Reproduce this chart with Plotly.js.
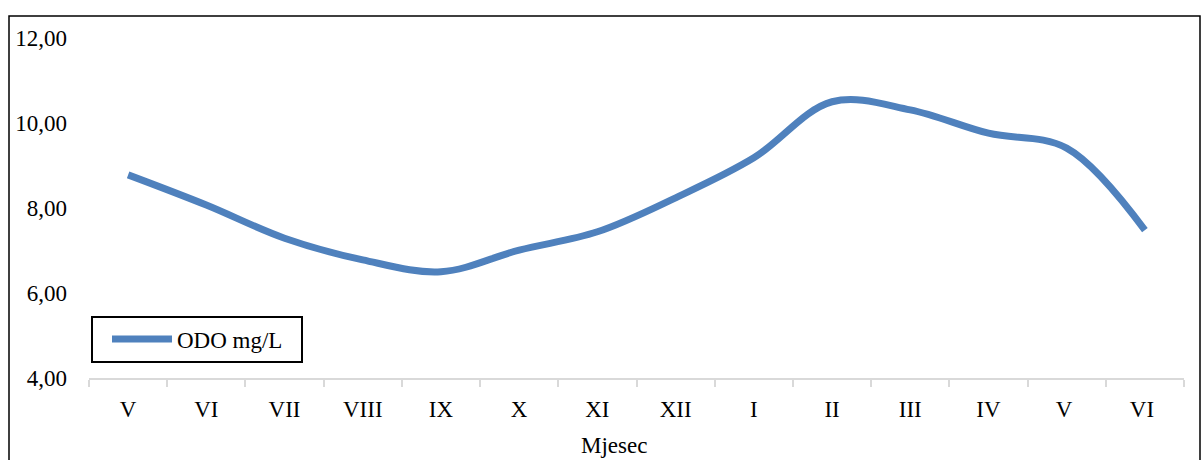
<!DOCTYPE html>
<html>
<head>
<meta charset="utf-8">
<script src="https://cdn.plot.ly/plotly-3.0.1.min.js"></script>
<style>html,body{margin:0;padding:0;background:#fff;}#chart{width:1201px;height:460px;}</style>
</head>
<body>
<div id="chart"></div>
<script>
const months = ["V","VI","VII","VIII","IX","X","XI","XII","I","II","III","IV","V ","VI "];
const odo = [8.78, 8.07, 7.29, 6.78, 6.50, 7.01, 7.44, 8.24, 9.18, 10.50, 10.31, 9.76, 9.41, 7.48];
const seriesName = "ODO mg/L";
const xTitle = "Mjesec";
const yTicks = [4, 6, 8, 10, 12];

const font = {family: "Liberation Serif, Times New Roman, serif", size: 23, color: "#000"};

const trace = {
  x: months, y: odo, type: "scatter", mode: "lines", name: seriesName,
  line: {color: "#4F81BD", width: 7, shape: "spline", smoothing: 1}
};

const W = 1095, H = 340, L = 89, B = 378;
const px = v => (v - L) / W;
const py = v => (B - v) / H;

const layout = {
  width: 1201, height: 460,
  margin: {l: 89, r: 17, t: 38, b: 82},
  paper_bgcolor: "#fff", plot_bgcolor: "#fff",
  font: font,
  separators: ",.",
  showlegend: true,
  legend: {
    x: px(107), y: py(339), xanchor: "left", yanchor: "middle",
    borderwidth: 0, bgcolor: "rgba(0,0,0,0)",
    font: font, itemwidth: 60
  },
  xaxis: {
    type: "category", range: [-0.5, 13.5],
    showgrid: false, zeroline: false,
    showline: true, linecolor: "#d9d9d9", linewidth: 2,
    ticks: "outside", tickson: "boundaries", ticklen: 7, tickcolor: "#d9d9d9", tickwidth: 2,
    tickfont: font, ticklabelstandoff: 9, fixedrange: true
  },
  yaxis: {
    range: [4, 12], tickvals: yTicks, tickformat: ".2f",
    showgrid: false, zeroline: false, showline: false,
    ticks: "", tickfont: font, ticklabelstandoff: 21, fixedrange: true
  },
  annotations: [{
    text: xTitle, xref: "paper", yref: "paper",
    x: px(614), y: py(445),
    xanchor: "center", yanchor: "middle", showarrow: false, font: font
  }],
  shapes: [{
    type: "rect", xref: "paper", yref: "paper",
    x0: px(9), x1: px(1200), y0: py(470), y1: py(16),
    line: {color: "#000", width: 1.5}, fillcolor: "rgba(0,0,0,0)", layer: "below"
  }, {
    type: "rect", xref: "paper", yref: "paper",
    x0: px(92), x1: px(302), y0: py(362), y1: py(317),
    line: {color: "#000", width: 2}, fillcolor: "#fff", layer: "above"
  }]
};

Plotly.newPlot("chart", [trace], layout, {displayModeBar: false, staticPlot: true});
</script>
</body>
</html>
